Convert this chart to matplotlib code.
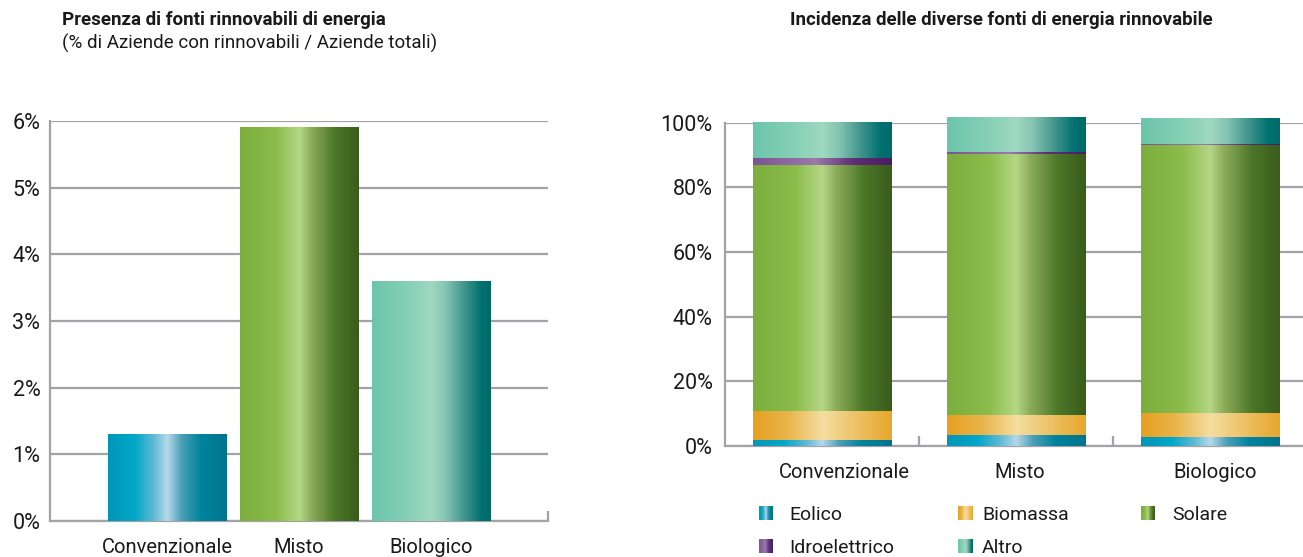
import numpy as np
import matplotlib
matplotlib.use("Agg")
import matplotlib.pyplot as plt
import matplotlib.transforms as mtransforms
from matplotlib.colors import LinearSegmentedColormap
from matplotlib.ticker import FixedLocator

plt.rcParams['font.family'] = ['Roboto', 'DejaVu Sans']

# ---- data -------------------------------------------------------------
categories = ["Convenzionale", "Misto", "Biologico"]
presenza = [1.3, 5.9, 3.6]            # % aziende con rinnovabili / totali
left_ticks = [0, 1, 2, 3, 4, 5, 6]

fonti = ["Eolico", "Biomassa", "Solare", "Idroelettrico", "Altro"]
eolico = [1.8, 3.3, 2.7]
biomassa = [8.9, 6.2, 7.4]
solare = [76.1, 80.9, 83.1]
idroelettrico = [2.3, 0.5, 0.3]
altro = [10.9, 10.6, 8.0]
right_ticks = [0, 20, 40, 60, 80, 100]

# ---- metallic horizontal gradients ------------------------------------
STOPS = {
    "blue":   [(0.0, "#0096b9"), (0.22, "#00a7c8"), (0.38, "#5cb9d3"),
               (0.5, "#b5d9e9"), (0.62, "#4a9fb6"), (0.78, "#00839d"),
               (1.0, "#00748e")],
    "green":  [(0.0, "#7bae3d"), (0.3, "#8cbc4b"), (0.5, "#b4d785"),
               (0.6, "#8cac5a"), (0.8, "#4c7628"), (1.0, "#3a5c1b")],
    "teal":   [(0.0, "#6cc5aa"), (0.3, "#86d0b6"), (0.5, "#a0d8c1"),
               (0.62, "#84c4b2"), (0.78, "#3f948c"), (0.92, "#00716f"),
               (1.0, "#006a6a")],
    "orange": [(0.0, "#e4a020"), (0.25, "#e9b44a"), (0.5, "#f4dea0"),
               (0.72, "#eec46c"), (1.0, "#e6a72a")],
    "purple": [(0.0, "#7c5394"), (0.45, "#9a7aab"), (0.72, "#5e2f76"),
               (1.0, "#4a1c63")],
}
CMAPS = {k: LinearSegmentedColormap.from_list(k, v) for k, v in STOPS.items()}
GRAD = np.linspace(0, 1, 256).reshape(1, -1)

GRID = "#a3a3a7"
TXT = "#1a1a1a"


def fill_gradient(ax, patch, cmap):
    x, y = patch.get_x(), patch.get_y()
    w, h = patch.get_width(), patch.get_height()
    ax.imshow(GRAD, cmap=cmap, aspect="auto", origin="lower",
              extent=(x, x + w, y, y + h), interpolation="bilinear",
              zorder=3, clip_on=False)


def style_axes(ax):
    for s in ("top", "right"):
        ax.spines[s].set_visible(False)
    for s in ("left", "bottom"):
        ax.spines[s].set_color(GRID)
        ax.spines[s].set_linewidth(1.6)
    ax.yaxis.grid(True, color=GRID, linewidth=1.6)
    ax.set_axisbelow(True)
    ax.tick_params(axis="y", length=0, labelsize=15.5, labelcolor=TXT)
    ax.tick_params(axis="x", which="major", length=0, labelsize=14.5,
                   labelcolor=TXT)
    ax.tick_params(axis="x", which="minor", direction="in", length=7,
                   width=1.6, color=GRID)


W, H = 1303, 557
fig = plt.figure(figsize=(W / 100, H / 100), dpi=100)

# ---- left chart: share of farms with renewables ------------------------
axL = fig.add_axes([50 / W, (H - 521) / H, 498 / W, 400 / H])
xL = np.arange(len(categories))
colsL = ["blue", "green", "teal"]
barsL = axL.bar(xL, presenza, width=0.9, color="none", zorder=2)
for b, c in zip(barsL, colsL):
    fill_gradient(axL, b, CMAPS[c])
axL.set_xlim(-0.886, 2.886)
axL.set_ylim(0, 6)
axL.set_yticks(left_ticks)
axL.set_yticklabels([f"{v}%" for v in left_ticks])
axL.set_xticks(xL)
axL.set_xticklabels(categories)
axL.xaxis.set_minor_locator(FixedLocator([2.886]))
style_axes(axL)
axL.tick_params(axis="y", pad=7)
axL.tick_params(axis="x", which="major", pad=12)

# ---- right chart: mix of renewable sources -----------------------------
axR = fig.add_axes([725 / W, (H - 446) / H, 582 / W, 323.3 / H])
xR = np.arange(len(categories))
series = [(eolico, "blue"), (biomassa, "orange"), (solare, "green"),
          (idroelettrico, "purple"), (altro, "teal")]
bottom = np.zeros(len(categories))
for vals, c in series:
    bars = axR.bar(xR, vals, width=0.716, bottom=bottom, color="none",
                   zorder=2)
    for b in bars:
        fill_gradient(axR, b, CMAPS[c])
    bottom += np.array(vals)
axR.set_xlim(-0.5, 2.5)
axR.set_ylim(0, 100)
axR.set_yticks(right_ticks)
axR.set_yticklabels([f"{v}%" for v in right_ticks])
axR.set_xticks(xR)
axR.set_xticklabels(categories)
axR.xaxis.set_minor_locator(FixedLocator([0.5, 1.5]))
style_axes(axR)
axR.tick_params(axis="y", pad=9)
axR.tick_params(axis="x", which="major", pad=12)
# nudge category labels slightly to the right (first one more)
for lab, dx in zip(axR.get_xticklabels(), [22, 4, 5]):
    lab.set_transform(lab.get_transform() +
                      mtransforms.ScaledTranslation(dx / 100, 0,
                                                    fig.dpi_scale_trans))

# ---- titles -------------------------------------------------------------
fig.text(62 / W, 1 - 20 / H, "Presenza di fonti rinnovabili di energia",
         fontsize=13.5, fontweight="bold", color=TXT, va="center", ha="left")
fig.text(62 / W, 1 - 43 / H,
         "(% di Aziende con rinnovabili / Aziende totali)",
         fontsize=13.5, color=TXT, va="center", ha="left")
fig.text(1001 / W, 1 - 20 / H,
         "Incidenza delle diverse fonti di energia rinnovabile",
         fontsize=13.5, fontweight="bold", color=TXT, va="center",
         ha="center")

# ---- legend ---------------------------------------------------------------
legend_items = [
    ("Eolico", "blue", 759, 789, 513),
    ("Biomassa", "orange", 958, 982, 513),
    ("Solare", "green", 1141, 1172, 513),
    ("Idroelettrico", "purple", 759, 789, 546),
    ("Altro", "teal", 958, 982, 546),
]
for label, c, mx, tx, cy in legend_items:
    lax = fig.add_axes([mx / W, (H - cy - 7.5) / H, 14 / W, 15 / H])
    lax.imshow(GRAD, cmap=CMAPS[c], aspect="auto", interpolation="bilinear")
    lax.set_axis_off()
    fig.text(tx / W, 1 - (cy + 2) / H, label, fontsize=14, color=TXT,
             va="center", ha="left")

fig.savefig("out.png", dpi=100)
